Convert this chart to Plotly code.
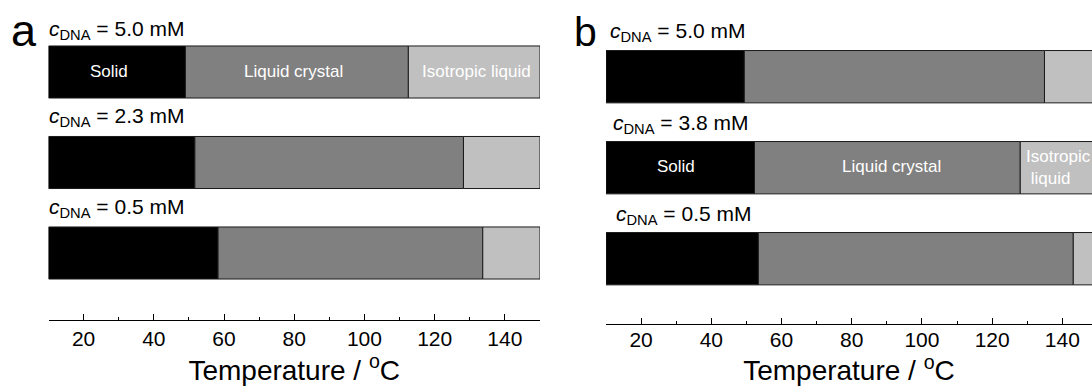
import plotly.graph_objects as go

# ---------------- data ----------------
T_MIN = 10.0
T_MAX = 150.0
phases = ["Solid", "Liquid crystal", "Isotropic liquid"]
phase_colors = ["#000000", "#808080", "#c0c0c0"]

conc_a = ["5.0", "2.3", "0.5"]
solid_end_a = [49.0, 51.7, 58.3]
lc_end_a = [112.5, 128.2, 133.7]

conc_b = ["5.0", "3.8", "0.5"]
solid_end_b = [49.4, 52.3, 53.4]
lc_end_b = [134.9, 128.0, 143.1]

tick_vals = [20, 40, 60, 80, 100, 120, 140]
tick_text = ["20", "40", "60", "80", "100", "120", "140"]

W, H = 1092, 390
FONT = "Arial, Liberation Sans, sans-serif"


def px_x(p):
    return p / W


def px_y(p):
    return 1 - p / H


fig = go.Figure()

rows = [0, 1, 2]


def add_panel(solid_end, lc_end, xa, ya):
    starts = [[T_MIN] * 3, solid_end, lc_end]
    ends = [solid_end, lc_end, [T_MAX] * 3]
    for name, col, s, e in zip(phases, phase_colors, starts, ends):
        fig.add_trace(go.Bar(
            y=rows, base=s, x=[b - a for a, b in zip(s, e)],
            orientation="h", width=0.575, name=name,
            marker=dict(color=col, line=dict(color="#1a1a1a", width=1)),
            xaxis=xa, yaxis=ya, showlegend=False, hoverinfo="skip",
        ))


add_panel(solid_end_a, lc_end_a, "x", "y")
add_panel(solid_end_b, lc_end_b, "x2", "y2")

# axes geometry (pixels)
a_left, a_right = 48.5, 540.0
b_left = 606.0
pxdeg = (a_right - a_left) / (T_MAX - T_MIN)
b_right_T = T_MIN + (W - b_left) / pxdeg

ka, ca0, a_axis = 90.5, 72.0, 319.7
a_top = ca0 - 0.5 * ka
a_bot_val = -0.5 + (a_axis - a_top) / ka
kb, cb0, b_axis = 91.0, 76.7, 323.5
b_top = cb0 - 0.5 * kb
b_bot_val = -0.5 + (b_axis - b_top) / kb


def xcommon(label_standoff, title_standoff):
    return dict(
        showline=True, linecolor="black", linewidth=1,
        ticks="inside", ticklen=6, tickwidth=1, tickcolor="black",
        tickvals=tick_vals, ticktext=tick_text, ticklabelstandoff=label_standoff,
        minor=dict(dtick=10, tick0=0, ticks="inside", ticklen=3, tickwidth=1, tickcolor="black"),
        tickfont=dict(family=FONT, size=21, color="black"),
        title=dict(text="Temperature / <sup>o</sup>C", font=dict(family=FONT, size=28, color="black"),
                   standoff=title_standoff),
        showgrid=False, zeroline=False, fixedrange=True,
    )


fig.update_layout(
    width=W, height=H,
    margin=dict(l=0, r=0, t=0, b=0),
    paper_bgcolor="white", plot_bgcolor="white",
    barmode="overlay",
    font=dict(family=FONT, color="black"),
    xaxis=dict(domain=[px_x(a_left), px_x(a_right)], range=[T_MIN, T_MAX], anchor="y",
               **xcommon(0, 8)),
    yaxis=dict(domain=[px_y(a_axis), px_y(a_top)], range=[a_bot_val, -0.5], visible=False,
               anchor="x", fixedrange=True),
    xaxis2=dict(domain=[px_x(b_left), 1.0], range=[T_MIN, b_right_T], anchor="y2",
                **xcommon(-3, 7)),
    yaxis2=dict(domain=[px_y(b_axis), px_y(b_top)], range=[b_bot_val, -0.5], visible=False,
                anchor="x2", fixedrange=True),
)

ann = []
ann.append(dict(text="a", x=px_x(9), y=px_y(30.5), xref="paper", yref="paper",
                xanchor="left", yanchor="middle", showarrow=False,
                font=dict(family=FONT, size=45, color="black")))
ann.append(dict(text="b", x=px_x(572), y=px_y(31.8), xref="paper", yref="paper",
                xanchor="left", yanchor="middle", showarrow=False,
                font=dict(family=FONT, size=41, color="black")))

lab_a_x = [47, 47, 47]
lab_a_y = [28, 114, 205.5]
lab_b_x = [608, 611, 614]
lab_b_y = [29, 121, 212]
lab_font = dict(family=FONT, size=21, color="black")
for c, lx, ly in zip(conc_a, lab_a_x, lab_a_y):
    ann.append(dict(text=f"<i>c</i><sub>DNA</sub> = {c} mM", x=px_x(lx), y=px_y(ly + 2.5),
                    xref="paper", yref="paper", xanchor="left", yanchor="middle",
                    showarrow=False, font=lab_font))
for c, lx, ly in zip(conc_b, lab_b_x, lab_b_y):
    ann.append(dict(text=f"<i>c</i><sub>DNA</sub> = {c} mM", x=px_x(lx), y=px_y(ly + 2.5),
                    xref="paper", yref="paper", xanchor="left", yanchor="middle",
                    showarrow=False, font=lab_font))

wf = dict(family=FONT, size=17, color="white")
ann.append(dict(text="Solid", x=(T_MIN + solid_end_a[0]) / 2, y=0, xref="x", yref="y",
                showarrow=False, font=wf, xshift=-8, yshift=1))
ann.append(dict(text="Liquid crystal", x=(solid_end_a[0] + lc_end_a[0]) / 2, y=0, xref="x", yref="y",
                showarrow=False, font=wf, xshift=-3, yshift=1))
ann.append(dict(text="Isotropic liquid", x=(lc_end_a[0] + T_MAX) / 2, y=0, xref="x", yref="y",
                showarrow=False, font=wf, xshift=2, yshift=1))
ann.append(dict(text="Solid", x=(T_MIN + solid_end_b[1]) / 2, y=1, xref="x2", yref="y2",
                showarrow=False, font=wf, xshift=-4, yshift=1))
ann.append(dict(text="Liquid crystal", x=(solid_end_b[1] + lc_end_b[1]) / 2, y=1, xref="x2", yref="y2",
                showarrow=False, font=wf, xshift=4, yshift=1))
ann.append(dict(text="Isotropic<br> liquid", x=lc_end_b[1], y=1, xref="x2", yref="y2",
                xanchor="left", align="left", showarrow=False, font=wf, xshift=4, yshift=0))

fig.update_layout(annotations=ann)

fig.write_html("out.html")
